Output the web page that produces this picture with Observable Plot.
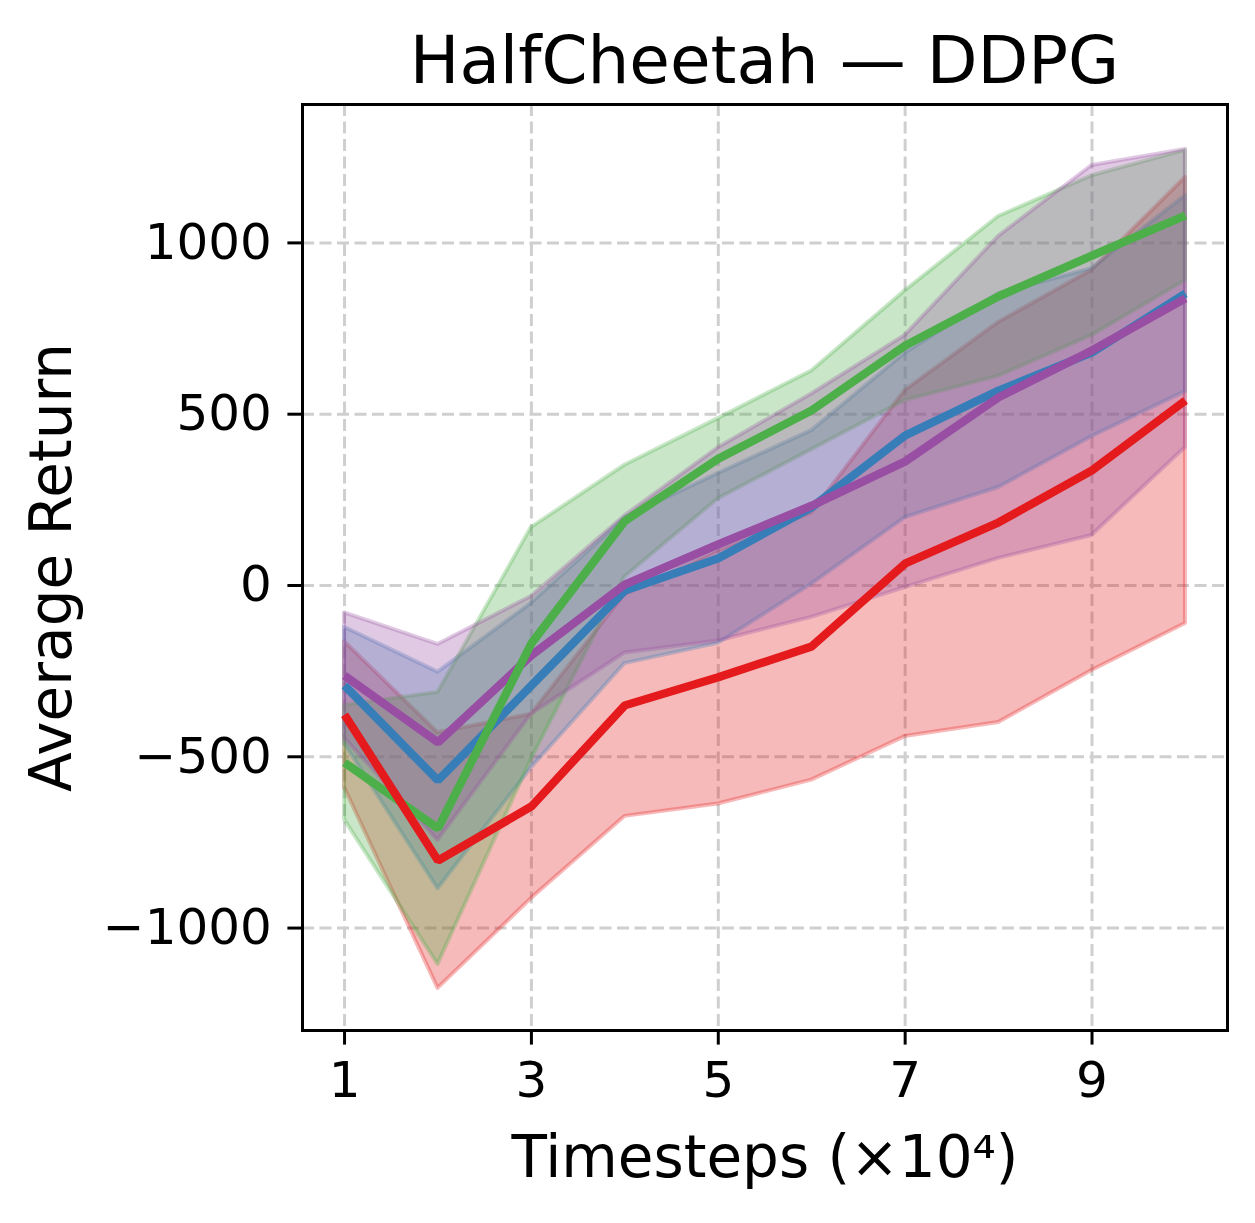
<!DOCTYPE html>
<html>
<head>
<meta charset="utf-8">
<script src="https://cdn.jsdelivr.net/npm/d3@7"></script>
<script src="https://cdn.jsdelivr.net/npm/@observablehq/plot@0.6"></script>
<style>
  html, body { margin: 0; padding: 0; background: #fff; }
  #wrap { width: 1255px; height: 1223px; position: relative; font-family: "DejaVu Sans", sans-serif; }
  #title { position: absolute; top: 0; left: 302px; width: 925px; height: 90px; box-sizing: border-box; padding-top: 22px; line-height: 77px; font-size: 66px; text-align: center; color: #000; }
  #chart { position: absolute; top: 90px; left: 0; }
</style>
</head>
<body>
<div id="wrap">
  <div id="title">HalfCheetah — DDPG</div>
  <div id="chart"></div>
</div>
<script>
// Timesteps (×10^4)
const steps = [1, 2, 3, 4, 5, 6, 7, 8, 9, 10];

// Series values (mean and spread)
const redMean    = [-377, -803, -645, -350, -268, -178, 64, 184, 336, 540];
const redStd     = [213, 373, 269, 324, 370, 390, 505, 584, 584, 651];
const blueMean   = [-292, -569, -292, -15, 79, 228, 438, 569, 680, 852];
const blueStd    = [170, 316, 240, 213, 248, 224, 240, 283, 245, 286];
const greenMean  = [-517, -709, -169, 188, 370, 511, 700, 844, 963, 1080];
const greenStd   = [167, 397, 338, 163, 117, 115, 160, 233, 233, 190];
const purpleMean = [-263, -458, -204, 3, 120, 233, 362, 549, 686, 838];
const purpleStd  = [183, 286, 172, 200, 282, 326, 368, 470, 540, 435];

const seriesNames  = ["red", "blue", "green", "purple"];
const seriesColors = ["#e41a1c", "#377eb8", "#4daf4a", "#984ea3"];
const seriesMeans  = [redMean, blueMean, greenMean, purpleMean];
const seriesStds   = [redStd, blueStd, greenStd, purpleStd];
const lineOrder    = [1, 3, 2, 0]; // blue, purple, green, red on top

const xTicks = [1, 3, 5, 7, 9];
const yTicks = [-1000, -500, 0, 500, 1000];

const marks = [];
marks.push(Plot.gridX(xTicks, {stroke: "#cfcfcf", strokeOpacity: 1, strokeWidth: 3, strokeDasharray: "12,5.5"}));
marks.push(Plot.gridY(yTicks, {stroke: "#cfcfcf", strokeOpacity: 1, strokeWidth: 3, strokeDasharray: "12,5.5"}));

seriesNames.forEach((name, i) => {
  const rows = steps.map((s, j) => ({step: s, mean: seriesMeans[i][j], std: seriesStds[i][j]}));
  const c = seriesColors[i];
  marks.push(Plot.areaY(rows, {
    x: "step", y1: d => d.mean - d.std, y2: d => d.mean + d.std,
    fill: c, fillOpacity: 0.3, stroke: c, strokeOpacity: 0.3, strokeWidth: 4
  }));
});
lineOrder.forEach(i => {
  const rows = steps.map((s, j) => ({step: s, mean: seriesMeans[i][j]}));
  marks.push(Plot.lineY(rows, {x: "step", y: "mean", stroke: seriesColors[i], strokeWidth: 8.3, strokeLinejoin: "miter", strokeLinecap: "butt"}));
});

const fmt = d => d < 0 ? "\u2212" + Math.abs(d) : String(d);
marks.push(Plot.axisX(xTicks, {tickSize: 14.6, tickPadding: 16, strokeWidth: 3, fontSize: 50, label: null}));
marks.push(Plot.axisY(yTicks, {tickSize: 14.6, tickPadding: 16, strokeWidth: 3, fontSize: 50, label: null, tickFormat: fmt}));
marks.push(Plot.frame({stroke: "#000", strokeWidth: 3}));
marks.push(Plot.text(["Timesteps (×10⁴)"], {frameAnchor: "bottom", dy: 146, fontSize: 58, fill: "#000"}));
marks.push(Plot.text(["Average Return"], {frameAnchor: "left", textAnchor: "middle", rotate: -90, dx: -250, fontSize: 58, fill: "#000"}));

const chart = Plot.plot({
  width: 1255,
  height: 1133,
  marginTop: 14,
  marginBottom: 193,
  marginLeft: 302,
  marginRight: 28,
  style: {fontFamily: "DejaVu Sans, sans-serif", color: "#000", background: "#fff", overflow: "visible"},
  x: {domain: [0.55, 10.45]},
  y: {domain: [-1299, 1404]},
  marks
});
document.getElementById("chart").appendChild(chart);
</script>
</body>
</html>
